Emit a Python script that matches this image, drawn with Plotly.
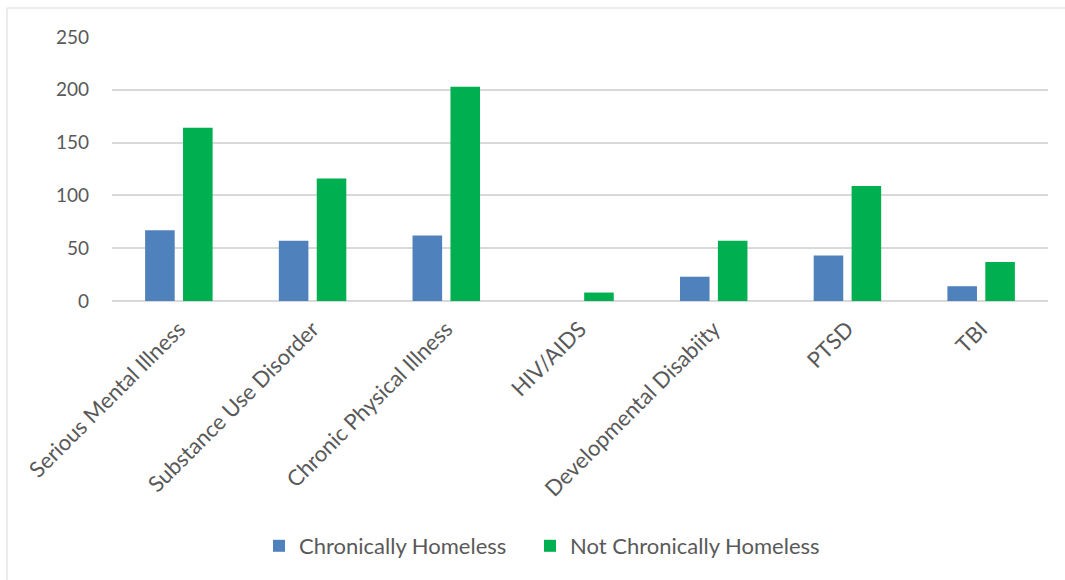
import plotly.graph_objects as go

categories = ["Serious Mental Illness", "Substance Use Disorder", "Chronic Physical Illness",
              "HIV/AIDS", "Developmental Disabiity", "PTSD", "TBI"]
chronic = [67, 57, 62, 0, 23, 43, 14]
not_chronic = [164, 116, 203, 8, 57, 109, 37]
y_ticks = [0, 50, 100, 150, 200, 250]

W, H = 1065, 580
L, R, T, B = 112, 17, 37, 279
pw, ph = W - L - R, H - T - B

FAM = "Lato, Open Sans, sans-serif"
GREY = "#595959"
text_font = dict(family=FAM, size=22, color=GREY)
num_font = dict(family=FAM, size=19, color=GREY)

fig = go.Figure()
fig.add_trace(go.Bar(x=categories, y=chronic, name="Chronically Homeless",
                     marker=dict(color="#4F81BD", line=dict(width=0)), legend="legend"))
fig.add_trace(go.Bar(x=categories, y=not_chronic, name="Not Chronically Homeless",
                     marker=dict(color="#00B050", line=dict(width=0)), legend="legend2"))

leg_y = (H - B - 546) / ph
fig.update_layout(
    width=W, height=H,
    margin=dict(l=L, r=R, t=T, b=B),
    paper_bgcolor="white", plot_bgcolor="white",
    font=text_font,
    barmode="group", bargap=0.433, bargroupgap=0.22,
    showlegend=True,
    legend=dict(orientation="h", x=(259 - L) / pw, xanchor="left",
                y=leg_y, yanchor="middle", font=text_font, itemwidth=30,
                bgcolor="rgba(0,0,0,0)"),
    legend2=dict(orientation="h", x=(530 - L) / pw, xanchor="left",
                 y=leg_y, yanchor="middle", font=text_font, itemwidth=30,
                 bgcolor="rgba(0,0,0,0)"),
    xaxis=dict(tickangle=-45, showgrid=False, showline=False, zeroline=False,
               ticks="", tickfont=text_font, ticklabelstandoff=10),
    yaxis=dict(range=[0, 250], tickvals=y_ticks, showgrid=True, gridcolor="#D9D9D9",
               gridwidth=1.5, zeroline=True, zerolinecolor="#D9D9D9", zerolinewidth=1.5,
               showline=False, ticks="", ticklabelstandoff=22, tickfont=num_font),
    shapes=[dict(type="rect", xref="paper", yref="paper",
                 x0=(7 - L) / pw, x1=(1080 - L) / pw,
                 y0=(H - B - 600) / ph, y1=(H - B - 8) / ph,
                 line=dict(color="#D9D9D9", width=1), layer="below")],
)

fig.write_html("out.html", config={"displayModeBar": False},
               post_script="document.body.style.margin='0';document.body.style.overflow='hidden';")
